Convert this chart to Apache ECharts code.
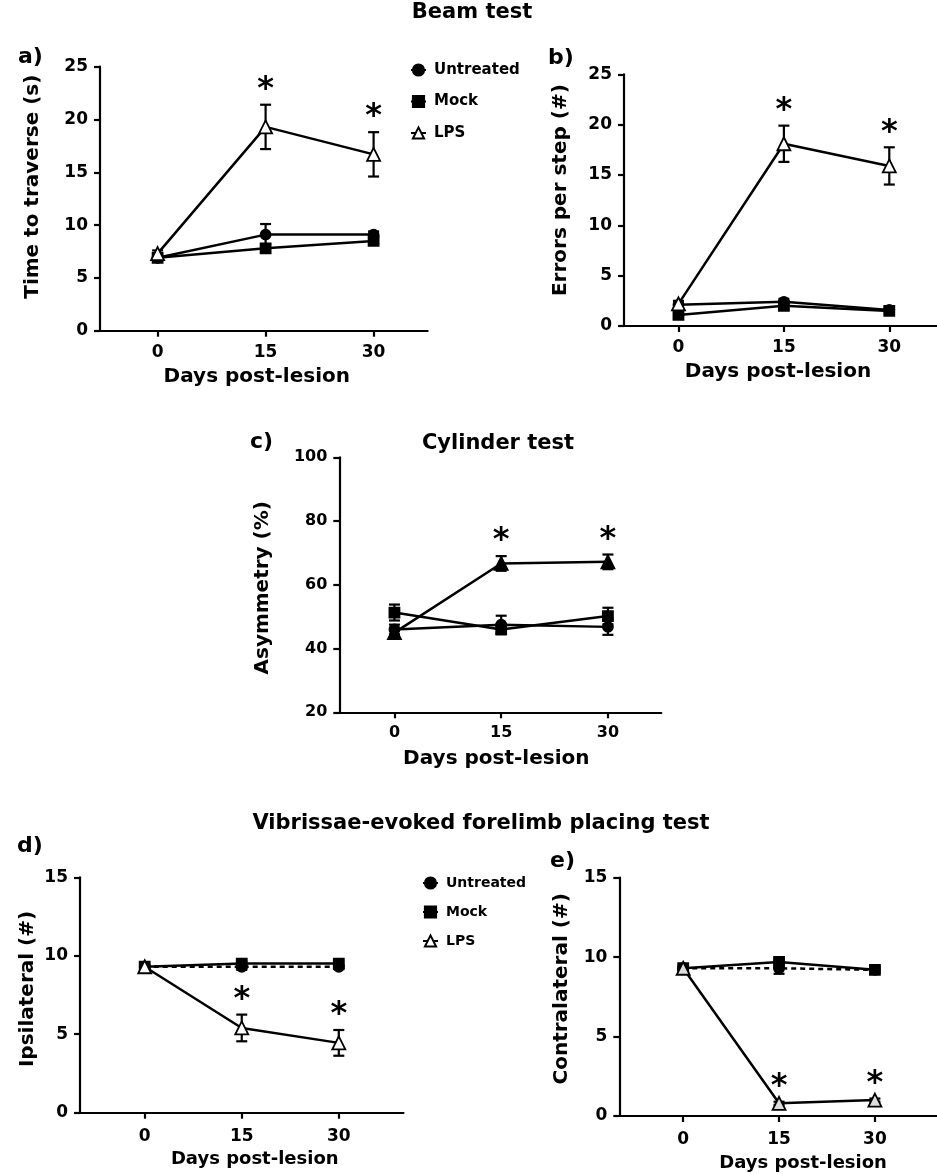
<!DOCTYPE html>
<html>
<head>
<meta charset="utf-8">
<script src="https://cdn.jsdelivr.net/npm/echarts@6.0.0/dist/echarts.min.js"></script>
<style>
html,body{margin:0;padding:0;background:#fff;}
#chart{width:937px;height:1174px;}
</style>
</head>
<body>
<div id="chart"></div>
<script>
// ---------------- DATA ----------------
const days = [0, 15, 30];
const xTicks = [0, 15, 30];
const groupNames = ['Untreated', 'Mock', 'LPS'];
const starDays = [15, 30];

// a) Beam test - time to traverse (s)
const aTicks = [0, 5, 10, 15, 20, 25];
const aUntreated = [6.9, 9.1, 9.1];
const aUntreatedSem = [0.2, 1.0, 0.3];
const aMock = [6.9, 7.8, 8.5];
const aMockSem = [0.2, 0.4, 0.3];
const aLPS = [7.3, 19.3, 16.7];
const aLPSSem = [0.3, 2.1, 2.1];

// b) Beam test - errors per step (#)
const bTicks = [0, 5, 10, 15, 20, 25];
const bUntreated = [2.1, 2.4, 1.6];
const bUntreatedSem = [0.3, 0.3, 0.2];
const bMock = [1.1, 2.0, 1.5];
const bMockSem = [0.2, 0.3, 0.3];
const bLPS = [2.2, 18.1, 15.9];
const bLPSSem = [0.3, 1.8, 1.85];

// c) Cylinder test - asymmetry (%)
const cTicks = [20, 40, 60, 80, 100];
const cUntreated = [46, 47.5, 46.8];
const cUntreatedSem = [1.5, 2.8, 2.5];
const cMock = [51.3, 46, 50.2];
const cMockSem = [2.5, 1.5, 2.6];
const cLPS = [45, 66.7, 67.2];
const cLPSSem = [1.5, 2.3, 2.3];

// d) Vibrissae - ipsilateral (#)
const dTicks = [0, 5, 10, 15];
const dUntreated = [9.3, 9.3, 9.3];
const dUntreatedSem = [0.15, 0.2, 0.15];
const dMock = [9.3, 9.5, 9.5];
const dMockSem = [0.1, 0.15, 0.15];
const dLPS = [9.3, 5.4, 4.45];
const dLPSSem = [0.1, 0.85, 0.82];

// e) Vibrissae - contralateral (#)
const eTicks = [0, 5, 10, 15];
const eUntreated = [9.3, 9.3, 9.2];
const eUntreatedSem = [0.1, 0.35, 0.15];
const eMock = [9.3, 9.7, 9.2];
const eMockSem = [0.1, 0.15, 0.2];
const eLPS = [9.3, 0.8, 1.0];
const eLPSSem = [0.1, 0.1, 0.1];

// ---------------- LAYOUT / STYLE ----------------
const FONT = 'DejaVu Sans';
const BLACK = '#000';

const panels = [
  { grid: {left: 100, top: 66.7, width: 327.6, height: 264}, xmin: -8, xmax: 37.5,
    ticks: aTicks, yName: 'Time to traverse (s)', yGap: 57, yPad: [0,0,0,24],
    xGap: 36, xFont: 20, xPad: [0,14,0,0], tickFont: 17, xMargin: 13,
    u: aUntreated, us: aUntreatedSem, m: aMock, ms: aMockSem, l: aLPS, ls: aLPSSem,
    lpsFill: '#fff', uDash: 'solid' },
  { grid: {left: 624, top: 74.3, width: 318, height: 251.7}, xmin: -7.75, xmax: 37.5,
    ticks: bTicks, yName: 'Errors per step (#)', yGap: 53, yPad: [0,0,0,20],
    xGap: 36, xFont: 20, xPad: [0,10,0,0], tickFont: 17, xMargin: 13,
    u: bUntreated, us: bUntreatedSem, m: bMock, ms: bMockSem, l: bLPS, ls: bLPSSem,
    lpsFill: '#fff', uDash: 'solid' },
  { grid: {left: 339.3, top: 457.3, width: 322, height: 255}, xmin: -7.75, xmax: 37.5,
    ticks: cTicks, yName: 'Asymmetry (%)', yGap: 67, yPad: [0,6,0,0],
    xGap: 36, xFont: 20, xPad: [0,8,0,0], tickFont: 16, xMargin: 13,
    u: cUntreated, us: cUntreatedSem, m: cMock, ms: cMockSem, l: cLPS, ls: cLPSSem,
    lpsFill: '#000', uDash: 'solid' },
  { grid: {left: 80, top: 877.3, width: 323.5, height: 235.4}, xmin: -10, xmax: 40,
    ticks: dTicks, yName: 'Ipsilateral (#)', yGap: 42, yPad: [0,0,0,12],
    xGap: 38, xFont: 18, xPad: [0,0,0,26], tickFont: 17, xMargin: 15,
    u: dUntreated, us: dUntreatedSem, m: dMock, ms: dMockSem, l: dLPS, ls: dLPSSem,
    lpsFill: '#fff', uDash: [5, 4] },
  { grid: {left: 619.3, top: 877.7, width: 319.5, height: 238.3}, xmin: -10, xmax: 40,
    ticks: eTicks, yName: 'Contralateral (#)', yGap: 48, yPad: [0,0,0,16],
    xGap: 38, xFont: 18, xPad: [0,0,0,48], tickFont: 17, xMargin: 15,
    u: eUntreated, us: eUntreatedSem, m: eMock, ms: eMockSem, l: eLPS, ls: eLPSSem,
    lpsFill: '#ddd', uDash: [5, 4] }
];

function errRender(params, api) {
  const x = api.value(0), m = api.value(1), s = api.value(2);
  const t = api.coord([x, m + s]);
  const b = api.coord([x, m - s]);
  const w = 5.5;
  const st = {stroke: BLACK, lineWidth: 2.2};
  return {type: 'group', children: [
    {type: 'line', shape: {x1: t[0], y1: t[1], x2: b[0], y2: b[1]}, style: st},
    {type: 'line', shape: {x1: t[0] - w, y1: t[1], x2: t[0] + w, y2: t[1]}, style: st},
    {type: 'line', shape: {x1: b[0] - w, y1: b[1], x2: b[0] + w, y2: b[1]}, style: st}
  ]};
}

function starRender(params, api) {
  const p = api.coord([api.value(0), api.value(1)]);
  return {type: 'text', x: p[0], y: p[1] - 15,
    style: {text: '*', fontSize: 32, fontWeight: 'bold', fontFamily: FONT, fill: BLACK,
            align: 'center', verticalAlign: 'middle'}};
}

const grids = [], xAxes = [], yAxes = [], series = [];
panels.forEach((p, i) => {
  grids.push(Object.assign({outerBoundsMode: 'none', containLabel: false}, p.grid));
  xAxes.push({
    gridIndex: i, type: 'value', min: p.xmin, max: p.xmax,
    axisLine: {show: true, onZero: false, lineStyle: {color: BLACK, width: 2.2}},
    axisTick: {show: true, customValues: xTicks, length: 6, lineStyle: {color: BLACK, width: 2.2}},
    axisLabel: {show: true, customValues: xTicks, margin: p.xMargin, color: BLACK,
                fontSize: p.tickFont, fontWeight: 'bold', fontFamily: FONT},
    splitLine: {show: false},
    name: 'Days post-lesion', nameLocation: 'middle', nameGap: p.xGap,
    nameTextStyle: {color: BLACK, fontSize: p.xFont, fontWeight: 'bold', fontFamily: FONT, padding: p.xPad}
  });
  yAxes.push({
    gridIndex: i, type: 'value', min: p.ticks[0], max: p.ticks[p.ticks.length - 1],
    interval: p.ticks[1] - p.ticks[0],
    axisLine: {show: true, onZero: false, lineStyle: {color: BLACK, width: 2.2}},
    axisTick: {show: true, length: 6, lineStyle: {color: BLACK, width: 2.2}},
    axisLabel: {show: true, margin: 12, color: BLACK, fontSize: p.tickFont, fontWeight: 'bold', fontFamily: FONT},
    splitLine: {show: false},
    name: p.yName, nameLocation: 'middle', nameGap: p.yGap, nameRotate: 90,
    nameTextStyle: {color: BLACK, fontSize: 20, fontWeight: 'bold', fontFamily: FONT, padding: p.yPad}
  });

  const groups = [
    {name: 'Untreated', vals: p.u, sem: p.us, symbol: 'circle', size: 10, fill: BLACK, dash: p.uDash},
    {name: 'Mock', vals: p.m, sem: p.ms, symbol: 'rect', size: 10, fill: BLACK, dash: 'solid'},
    {name: 'LPS', vals: p.l, sem: p.ls, symbol: 'triangle', size: 13, fill: p.lpsFill, dash: 'solid'}
  ];

  groups.forEach(g => {
    series.push({
      type: 'custom', xAxisIndex: i, yAxisIndex: i, z: 1, silent: true,
      renderItem: errRender, encode: {x: 0, y: 1},
      data: days.map((d, k) => [d, g.vals[k], g.sem[k]])
    });
  });
  groups.forEach(g => {
    series.push({
      type: 'line', name: g.name, xAxisIndex: i, yAxisIndex: i, z: 3,
      data: days.map((d, k) => [d, g.vals[k]]),
      symbol: g.symbol, symbolSize: g.size, showSymbol: true,
      lineStyle: {color: BLACK, width: 2.5, type: g.dash},
      itemStyle: {color: g.fill, borderColor: BLACK, borderWidth: 1.8},
      emphasis: {disabled: true}, animation: false
    });
  });
  series.push({
    type: 'custom', xAxisIndex: i, yAxisIndex: i, z: 4, silent: true,
    renderItem: starRender, encode: {x: 0, y: 1},
    data: starDays.map(d => {
      const k = days.indexOf(d);
      return [d, p.l[k] + p.ls[k]];
    })
  });
});

const legendBase = {
  orient: 'vertical', data: groupNames, selectedMode: false,
  itemWidth: 15, itemHeight: 14,
  textStyle: {color: BLACK, fontWeight: 'bold', fontFamily: FONT, padding: [0, 0, 0, 3]}
};

function txt(x, y, text, size, align) {
  return {type: 'text', x: x, y: y,
    style: {text: text, fontSize: size, fontWeight: 'bold', fontFamily: FONT, fill: BLACK,
            align: align || 'center', verticalAlign: 'middle'}};
}

const option = {
  backgroundColor: '#fff',
  animation: false,
  grid: grids,
  xAxis: xAxes,
  yAxis: yAxes,
  series: series,
  legend: [
    Object.assign({}, legendBase, {left: 405, top: 57, itemGap: 15.5,
      textStyle: Object.assign({}, legendBase.textStyle, {fontSize: 15, lineHeight: 16})}),
    Object.assign({}, legendBase, {left: 417, top: 870, itemGap: 13,
      textStyle: Object.assign({}, legendBase.textStyle, {fontSize: 14, lineHeight: 16})})
  ],
  graphic: [
    txt(472, 13, 'Beam test', 21),
    txt(498, 444, 'Cylinder test', 21),
    txt(481, 824, 'Vibrissae-evoked forelimb placing test', 21),
    txt(18, 57, 'a)', 22, 'left'),
    txt(548, 58, 'b)', 22, 'left'),
    txt(250, 442, 'c)', 22, 'left'),
    txt(17, 846, 'd)', 22, 'left'),
    txt(550, 861, 'e)', 22, 'left')
  ]
};

const chart = echarts.init(document.getElementById('chart'), null, {renderer: 'canvas'});
chart.setOption(option);
</script>
</body>
</html>
